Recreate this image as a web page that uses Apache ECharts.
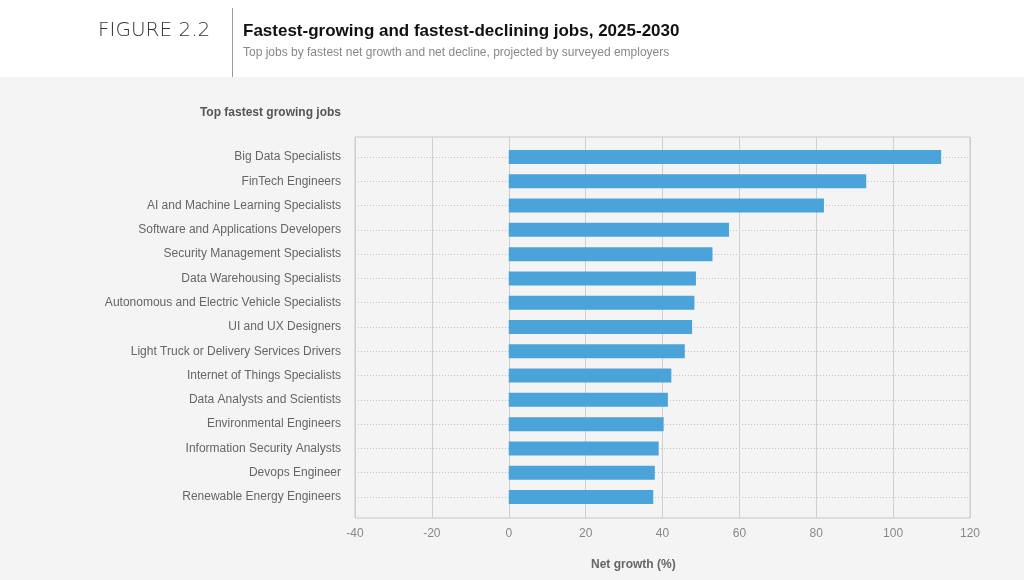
<!DOCTYPE html>
<html>
<head>
<meta charset="utf-8">
<script src="https://cdn.jsdelivr.net/npm/echarts@6/dist/echarts.min.js"></script>
<style>html,body{margin:0;padding:0;background:#f4f4f4;}#c{width:1024px;height:580px;}</style>
</head>
<body>
<div id="c"></div>
<script>
const categories = [
  "Big Data Specialists",
  "FinTech Engineers",
  "AI and Machine Learning Specialists",
  "Software and Applications Developers",
  "Security Management Specialists",
  "Data Warehousing Specialists",
  "Autonomous and Electric Vehicle Specialists",
  "UI and UX Designers",
  "Light Truck or Delivery Services Drivers",
  "Internet of Things Specialists",
  "Data Analysts and Scientists",
  "Environmental Engineers",
  "Information Security Analysts",
  "Devops Engineer",
  "Renewable Energy Engineers"
];
const netGrowth = [112.5, 93, 82, 57.3, 53, 48.7, 48.3, 47.7, 45.8, 42.3, 41.4, 40.3, 39, 38, 37.6];
const xMin = -40, xMax = 120, xStep = 20;

const FONT = '"Liberation Sans", Arial, sans-serif';
const chart = echarts.init(document.getElementById('c'));
chart.setOption({
  backgroundColor: '#f4f4f4',
  animation: false,
  textStyle: { fontFamily: FONT },
  graphic: [
    { type: 'rect', left: 0, top: 0, shape: { width: 1024, height: 77 }, style: { fill: '#ffffff' }, z: 0 },
    { type: 'line', shape: { x1: 232.5, y1: 8, x2: 232.5, y2: 77 }, style: { stroke: '#999', lineWidth: 1 }, z: 1 },
    { type: 'text', left: 98, top: 21, style: { text: 'FIGURE 2.2', font: '200 20px "DejaVu Sans", sans-serif', fill: '#333' }, z: 2 },
    { type: 'text', left: 243, top: 23, style: { text: 'Fastest-growing and fastest-declining jobs, 2025-2030', font: 'bold 17px ' + FONT, fill: '#111' }, z: 2 },
    { type: 'text', left: 243, top: 47, style: { text: 'Top jobs by fastest net growth and net decline, projected by surveyed employers', font: '12px ' + FONT, fill: '#888' }, z: 2 },
    { type: 'text', right: 1024 - 341, top: 107, style: { text: 'Top fastest growing jobs', font: 'bold 12px ' + FONT, fill: '#555', align: 'right' }, z: 2 },
    { type: 'text', left: 591, top: 559, style: { text: 'Net growth (%)', font: 'bold 12px ' + FONT, fill: '#666' }, z: 2 }
  ],
  grid: [
    { left: 355, top: 137, width: 615, height: 381, show: true, borderColor: '#c8c8c8', borderWidth: 1, backgroundColor: 'transparent' },
    { left: 355, top: 157, width: 615, height: 340 }
  ],
  xAxis: [
    {
      gridIndex: 0, type: 'value', min: xMin, max: xMax, interval: xStep,
      axisLine: { show: false }, axisTick: { show: false },
      splitLine: { show: true, lineStyle: { color: '#cfcfcf', width: 1 } },
      axisLabel: { color: '#888', fontSize: 12, margin: 10 }
    },
    {
      gridIndex: 1, type: 'value', min: xMin, max: xMax, interval: xStep, show: false
    }
  ],
  yAxis: [
    { gridIndex: 0, type: 'value', show: false, splitLine: { show: false } },
    {
      gridIndex: 1, type: 'category', data: categories, inverse: true, boundaryGap: false,
      axisLine: { show: false }, axisTick: { show: false },
      axisLabel: { color: '#666', fontSize: 12, margin: 14, interval: 0 },
      splitLine: { show: true, interval: 0, lineStyle: { color: '#c4c4c4', type: [1, 2], width: 1 } }
    }
  ],
  series: [
    {
      type: 'bar', xAxisIndex: 1, yAxisIndex: 1, data: netGrowth,
      barWidth: 14, clip: false,
      itemStyle: { color: '#4aa3d9' }, z: 3
    }
  ]
});
</script>
</body>
</html>
